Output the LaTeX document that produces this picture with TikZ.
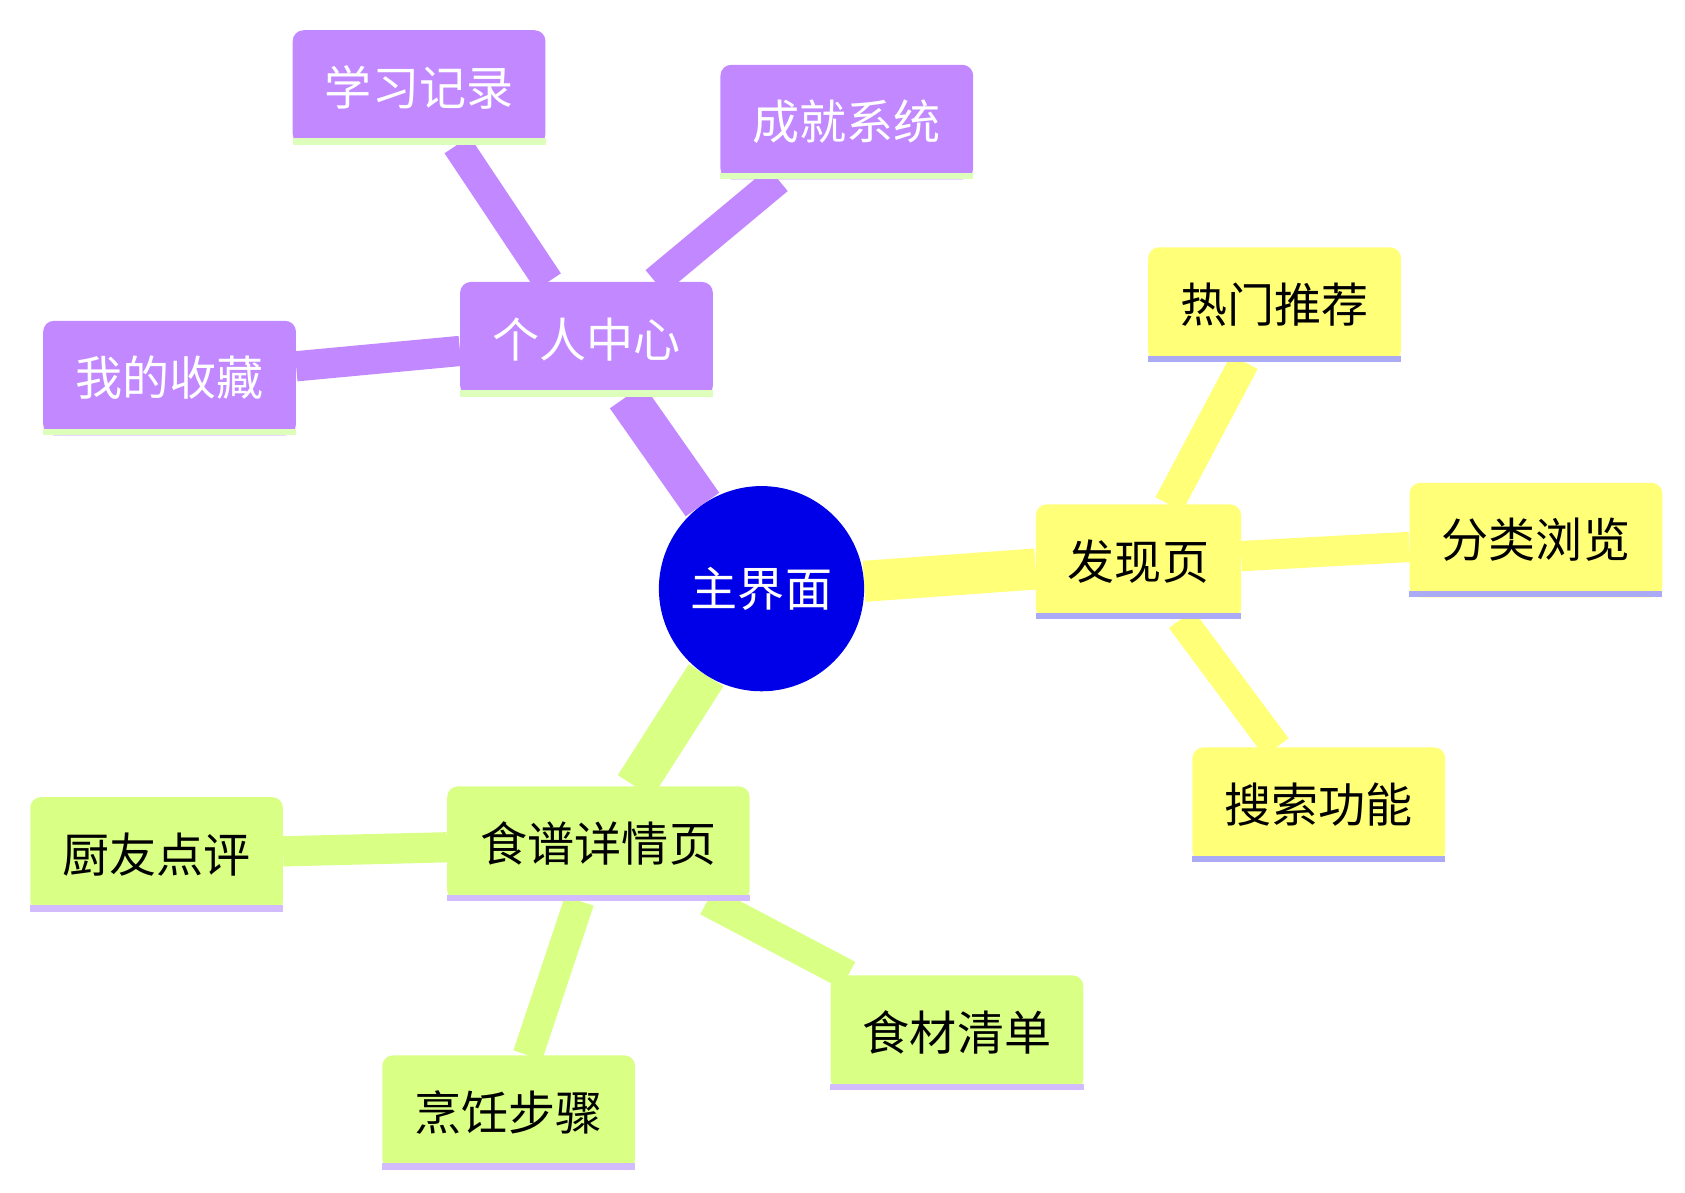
\documentclass[tikz,border=0pt]{standalone}
\usepackage{fontspec}
\newfontfamily\cjk{Noto Sans CJK SC}
\usetikzlibrary{backgrounds}
\definecolor{pur}{HTML}{C288FF}
\definecolor{yel}{HTML}{FFFF78}
\definecolor{grn}{HTML}{D9FF85}
\definecolor{purline}{HTML}{DDFFBB}
\definecolor{yelline}{HTML}{AAAAF5}
\definecolor{grnline}{HTML}{D3BBFF}
\definecolor{rootblue}{HTML}{0000E8}
% box with a coloured strip along its bottom edge
\newcommand{\leaf}[5]{%
  \node[box, fill=#4, minimum width=#3] (#1) at #2 {#5};
  \fill[#4line] (#1.south west) rectangle ([yshift=0.3cm]#1.south east);}
\begin{document}
\begin{tikzpicture}[x=0.05cm, y=-0.05cm,
    box/.style={rounded corners=0.5cm, minimum height=5.3cm, inner sep=0pt,
      font=\cjk\fontsize{62}{70}\selectfont},
    mainedge/.style={line width=1.9cm},
    subedge/.style={line width=1.4cm},
    ]
\useasboundingbox (0,0) rectangle (1560,1104);
% -------------------------------------------------
% root
\node[circle, fill=rootblue, minimum size=9.5cm, text=white,
  font=\cjk\fontsize{62}{70}\selectfont] (root) at (705,545) {主界面};
% personal branch
\leaf{me}{(543,314)}{11.7cm}{pur}{\textcolor{white}{个人中心}}
\leaf{hist}{(388,81)}{11.7cm}{pur}{\textcolor{white}{学习记录}}
\leaf{badge}{(784,113)}{11.7cm}{pur}{\textcolor{white}{成就系统}}
\leaf{fav}{(157,350)}{11.7cm}{pur}{\textcolor{white}{我的收藏}}
% discover branch
\leaf{disc}{(1054,520)}{9.5cm}{yel}{发现页}
\leaf{hot}{(1180,282)}{11.7cm}{yel}{热门推荐}
\leaf{cat}{(1422,500)}{11.7cm}{yel}{分类浏览}
\leaf{search}{(1221,745)}{11.7cm}{yel}{搜索功能}
% recipe branch
\leaf{recipe}{(554,781)}{14cm}{grn}{食谱详情页}
\leaf{review}{(145,791)}{11.7cm}{grn}{厨友点评}
\leaf{ingr}{(886,956)}{11.7cm}{grn}{食材清单}
\leaf{steps}{(471,1030)}{11.7cm}{grn}{烹饪步骤}
% -------------------------------------------------
\begin{scope}[on background layer]
\draw[mainedge, pur] (root) -- (me);
\draw[mainedge, yel] (root) -- (disc);
\draw[mainedge, grn] (root) -- (recipe);
\draw[subedge, pur] (me) -- (hist);
\draw[subedge, pur] (me) -- (badge);
\draw[subedge, pur] (me) -- (fav);
\draw[subedge, yel] (disc) -- (hot);
\draw[subedge, yel] (disc) -- (cat);
\draw[subedge, yel] (disc) -- (search);
\draw[subedge, grn] (recipe) -- (review);
\draw[subedge, grn] (recipe) -- (ingr);
\draw[subedge, grn] (recipe) -- (steps);
\end{scope}
\end{tikzpicture}
\end{document}
